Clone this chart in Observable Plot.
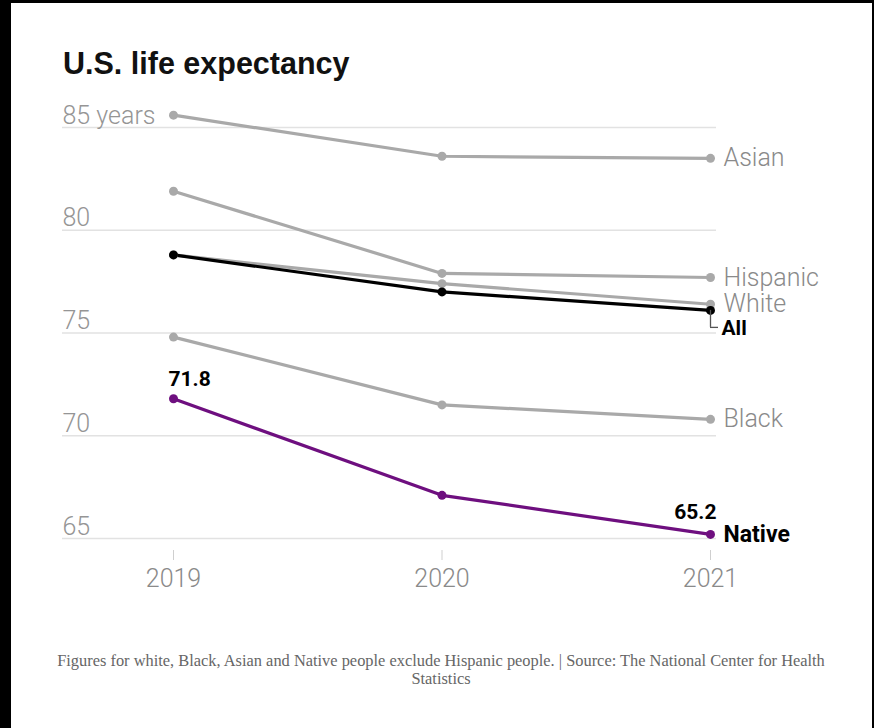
<!DOCTYPE html>
<html>
<head>
<meta charset="utf-8">
<script src="https://cdn.jsdelivr.net/npm/d3@7"></script>
<script src="https://cdn.jsdelivr.net/npm/@observablehq/plot@0.6"></script>
<style>
  html, body { margin: 0; padding: 0; background: #000; width: 874px; height: 728px; overflow: hidden; }
  #panel { position: absolute; left: 11px; top: 3px; width: 861px; height: 725px; background: #fff; }
  #title { position: absolute; left: 52px; top: 45px; font-family: "Liberation Sans", Arial, sans-serif; font-weight: 700; font-size: 30.5px; line-height: 30px; color: #111; }
  #chart { position: absolute; left: 0; top: 92px; }
  #caption { position: absolute; left: 30px; top: 649px; width: 800px; text-align: center; font-family: "Liberation Serif", "Times New Roman", serif; font-size: 16.4px; line-height: 18px; color: #666; }
</style>
</head>
<body>
<div id="panel">
  <div id="title">U.S. life expectancy</div>
  <div id="chart"></div>
  <div id="caption">Figures for white, Black, Asian and Native people exclude Hispanic people. | Source: The National Center for Health Statistics</div>
</div>
<script>
const years = [2019, 2020, 2021];
const asian = [85.6, 83.6, 83.5];
const hispanic = [81.9, 77.9, 77.7];
const white = [78.8, 77.4, 76.4];
const allGroups = [78.8, 77.0, 76.1];
const black = [74.8, 71.5, 70.8];
const native = [71.8, 67.1, 65.2];
const yTicks = [65, 70, 75, 80, 85];

const GREY = "#a9a9a9";
const PURPLE = "#6e0f7f";
const LABEL_GREY = "#8a8a8a";

const series = [
  {name: "Asian", values: asian, color: GREY, bold: false},
  {name: "Hispanic", values: hispanic, color: GREY, bold: false},
  {name: "White", values: white, color: GREY, bold: false},
  {name: "Black", values: black, color: GREY, bold: false},
  {name: "All", values: allGroups, color: "#000", bold: true},
  {name: "Native", values: native, color: PURPLE, bold: true}
];

const rows = series.flatMap(s => years.map((yr, i) => ({name: s.name, year: yr, value: s.values[i], color: s.color})));
const lastRows = series.map(s => ({name: s.name, year: years[2], value: s.values[2], bold: s.bold}));
const greyLast = lastRows.filter(d => !d.bold);
const allLast = lastRows.find(d => d.name === "All");
const nativeLast = lastRows.find(d => d.name === "Native");
const nativeFirst = {year: years[0], value: native[0]};

const sansLight = "Roboto, 'Liberation Sans', sans-serif";

const chart = Plot.plot({
  width: 861,
  height: 520,
  marginLeft: 51,
  marginRight: 156,
  marginTop: 32,
  marginBottom: 77,
  x: {domain: [2019, 2021], range: [162, 699], axis: null},
  y: {domain: [65, 85], axis: null},
  style: {fontFamily: sansLight, background: "transparent", overflow: "visible"},
  marks: [
    Plot.ruleY(yTicks, {stroke: "#e2e2e2", strokeWidth: 1.5}),
    Plot.text(yTicks, {
      y: d => d, frameAnchor: "left", textAnchor: "start", lineAnchor: "bottom", dy: -4,
      text: d => d === 85 ? "85 years" : String(d),
      fill: "#959595", fontSize: 25, fontWeight: 300
    }),
    Plot.axisX({
      ticks: years, tickFormat: d => String(d), tickSize: 10, tickPadding: 9, dy: 12,
      stroke: "#cfcfcf", fill: "#8a8a8a", fontSize: 25, fontWeight: 300, label: null
    }),
    Plot.line(rows, {x: "year", y: "value", z: "name", stroke: "color", strokeWidth: 3.2}),
    Plot.dot(rows, {x: "year", y: "value", fill: "color", r: 4.5}),
    // "All" connector
    Plot.ruleX([allLast], {x: "year", y1: "value", y2: "value", insetBottom: -17, stroke: "#555", strokeWidth: 1.3}),
    Plot.ruleY([allLast], {y: "value", x1: "year", x2: "year", dy: 17, insetRight: -8, stroke: "#555", strokeWidth: 1.3}),
    Plot.text(greyLast, {
      x: "year", y: "value", text: "name", dx: 13, textAnchor: "start", lineAnchor: "middle",
      fill: LABEL_GREY, fontSize: 25, fontWeight: 300
    }),
    Plot.text([allLast], {
      x: "year", y: "value", text: "name", dx: 11, dy: 18, textAnchor: "start", lineAnchor: "middle",
      fill: "#000", fontSize: 21, fontWeight: 700
    }),
    Plot.text([nativeLast], {
      x: "year", y: "value", text: "name", dx: 13, textAnchor: "start", lineAnchor: "middle",
      fill: "#000", fontSize: 23, fontWeight: 700
    }),
    Plot.text([nativeFirst], {
      x: "year", y: "value", text: d => d.value.toFixed(1), dx: -5, dy: -19, textAnchor: "start", lineAnchor: "middle",
      fill: "#000", fontSize: 21, fontWeight: 700
    }),
    Plot.text([nativeLast], {
      x: "year", y: "value", text: d => d.value.toFixed(1), dx: 6, dy: -22, textAnchor: "end", lineAnchor: "middle",
      fill: "#000", fontSize: 21, fontWeight: 700
    })
  ]
});
document.getElementById("chart").appendChild(chart);
</script>
</body>
</html>
